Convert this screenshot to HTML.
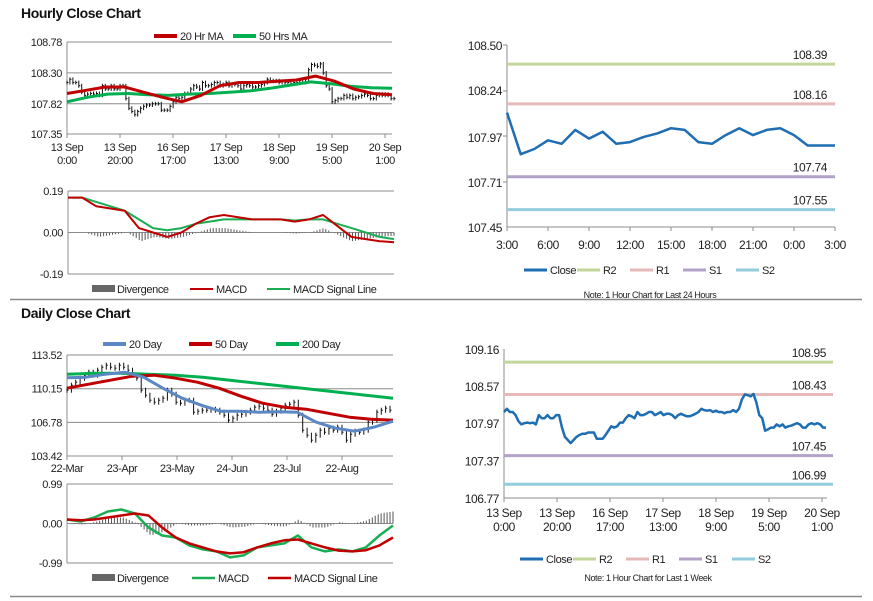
<!DOCTYPE html>
<html><head><meta charset="utf-8">
<style>
html,body{margin:0;padding:0;background:#fff;}
svg{display:block;font-family:"Liberation Sans",Arial,sans-serif;}
svg text{letter-spacing:-0.4px;}
</style></head>
<body>
<svg id="c" width="873" height="601" viewBox="0 0 873 601" xmlns="http://www.w3.org/2000/svg">
<text x="21" y="18" font-size="14" font-weight="bold" fill="#111">Hourly Close Chart</text>
<text x="21" y="318" font-size="14" font-weight="bold" fill="#111">Daily Close Chart</text>
<line x1="10" y1="299.5" x2="862" y2="299.5" stroke="#888" stroke-width="1.5"/>
<line x1="10" y1="596.5" x2="862" y2="596.5" stroke="#888" stroke-width="1.5"/>
<g id="g"></g>
</svg>
<script>
// ---------- DATA ----------
const weekClose=[108.15,108.2,108.15,108.15,108.1,108.0,107.95,107.97,107.98,107.97,107.98,107.95,108.1,108.05,108.05,108.1,108.05,108.05,108.1,108.1,107.9,107.75,107.7,107.65,107.7,107.75,107.78,107.8,107.8,107.82,107.82,107.82,107.72,107.72,107.72,107.78,107.85,107.92,107.9,107.92,107.98,107.98,108.05,108.1,108.08,108.05,108.15,108.1,108.1,108.12,108.15,108.15,108.1,108.12,108.15,108.1,108.12,108.12,108.1,108.05,108.1,108.12,108.1,108.08,108.08,108.1,108.12,108.15,108.2,108.18,108.17,108.18,108.15,108.17,108.15,108.15,108.13,108.15,108.15,108.18,108.15,108.2,108.35,108.43,108.42,108.4,108.44,108.3,108.1,108.05,107.85,107.87,107.9,107.9,107.95,107.92,107.95,107.9,107.92,107.93,107.95,107.97,107.95,107.9,107.9,107.95,107.97,107.95,107.97,107.95,107.9,107.9];
const ma20Hr=[107.98,108.03,108.08,108.08,108.0,107.92,107.85,107.95,108.1,108.15,108.15,108.17,108.19,108.25,108.17,108.05,107.98,107.96];
const ma50Hr=[107.85,107.92,107.97,107.98,107.96,107.95,107.97,107.98,108.0,108.02,108.06,108.11,108.16,108.13,108.09,108.07,108.06];
const hMacd=[0.16,0.16,0.12,0.11,0.10,0.02,0.00,-0.02,0.00,0.04,0.07,0.08,0.07,0.06,0.06,0.06,0.05,0.06,0.08,0.03,-0.02,-0.03,-0.04,-0.045];
const hSignal=[0.16,0.16,0.14,0.12,0.10,0.06,0.02,0.01,0.02,0.04,0.05,0.06,0.06,0.06,0.06,0.06,0.055,0.06,0.06,0.04,0.02,0.00,-0.02,-0.03];
const hourlyTicks=[["13 Sep","0:00"],["13 Sep","20:00"],["16 Sep","17:00"],["17 Sep","13:00"],["18 Sep","9:00"],["19 Sep","5:00"],["20 Sep","1:00"]];
const dayClose=[107.87,107.9,107.95,107.93,108.01,107.96,108.0,107.93,107.94,107.97,107.99,108.02,108.01,107.94,107.93,107.98,108.02,107.98,108.01,108.02,107.98,107.92,107.92,107.92];
const dayTicks=["3:00","6:00","9:00","12:00","15:00","18:00","21:00","0:00","3:00"];
const dayLevels=[["R2",108.39,"#c3d69b"],["R1",108.16,"#e6b9b8"],["S1",107.74,"#b3a2c7"],["S2",107.55,"#93cddd"]];
const dayFirst=108.11;
const weekLevels=[["R2",108.95,"#c3d69b"],["R1",108.43,"#e6b9b8"],["S1",107.45,"#b3a2c7"],["S2",106.99,"#93cddd"]];
const dailyClose=[110.0,110.5,110.8,111.2,111.5,111.8,111.5,112.0,112.3,112.5,112.3,112.2,112.5,112.3,112.0,111.5,111.2,110.0,109.5,109.0,108.8,109.0,109.2,110.0,109.6,108.8,108.7,109.0,109.0,107.8,107.9,108.0,108.0,108.1,108.0,107.8,107.5,107.0,107.2,107.5,107.6,107.8,108.0,108.3,108.4,108.2,108.0,107.6,107.9,108.2,108.5,108.6,108.8,107.5,106.0,105.5,105.0,105.5,106.0,105.8,106.2,106.0,106.3,105.8,105.0,105.6,105.9,105.8,106.0,106.8,107.0,107.8,108.0,108.2,108.0];
const ma20Day=[111.25,111.3,111.6,111.8,111.3,110.2,109.2,108.5,107.9,107.9,107.8,107.85,107.8,106.8,106.2,105.9,106.3,106.9];
const ma50Day=[110.2,110.6,111.0,111.4,111.5,111.2,110.8,110.2,109.4,108.7,108.3,108.1,107.7,107.3,107.1,107.0];
const ma200Day=[111.6,111.7,111.7,111.6,111.5,111.3,111.0,110.7,110.4,110.1,109.8,109.5,109.2];
const dMacd=[0.1,0.05,0.15,0.3,0.35,0.25,-0.1,-0.3,-0.35,-0.55,-0.65,-0.7,-0.85,-0.8,-0.6,-0.55,-0.5,-0.3,-0.6,-0.7,-0.65,-0.7,-0.6,-0.3,-0.05];
const dSignal=[0.1,0.08,0.1,0.15,0.2,0.25,0.2,-0.1,-0.35,-0.5,-0.6,-0.7,-0.75,-0.72,-0.6,-0.5,-0.42,-0.4,-0.5,-0.6,-0.68,-0.7,-0.67,-0.55,-0.35];
const dailyTicks=["22-Mar","23-Apr","23-May","24-Jun","23-Jul","22-Aug"];

// ---------- HELPERS ----------
const NS="http://www.w3.org/2000/svg";
const G=document.getElementById('g');
function el(tag,attrs,name,parent){
  const e=document.createElementNS(NS,tag);
  for(const k in attrs)e.setAttribute(k,attrs[k]);
  
  
  (parent||G).appendChild(e);return e;
}
function txt(x,y,s,size,anchor,name,fill){
  const t=el('text',{x:x,y:y,'font-size':size,'text-anchor':anchor||'start',fill:fill||'#222'},name);
  t.textContent=s;return t;
}
function lin(d0,d1,r0,r1){return v=>r0+(v-d0)*(r1-r0)/(d1-d0);}
function interp(arr,f){const p=f*(arr.length-1);const i=Math.min(Math.floor(p),arr.length-2);const t=p-i;return arr[i]*(1-t)+arr[i+1]*t;}
function line(arr,x0,x1,ys,color,w,name){
  const pts=arr.map((v,i)=>(x0+i*(x1-x0)/(arr.length-1)).toFixed(1)+','+ys(v).toFixed(1)).join(' ');
  el('polyline',{points:pts,fill:'none',stroke:color,'stroke-width':w,'stroke-linejoin':'round'},name);
}
function frame(x0,x1,y0,y1,ticks,ys,decimals,nameBase){
  ticks.forEach((v,i)=>{
    const y=ys(v);
    if(i>0&&i<ticks.length-1) el('line',{x1:x0,x2:x1,y1:y,y2:y,stroke:'#8c8c8c','stroke-width':1},nameBase+'-gridline');
    txt(x0-5,y+4,v.toFixed(decimals),11,'end',nameBase+'-y-tick');
  });
  el('line',{x1:x0,x2:x0,y1:ys(ticks[ticks.length-1]),y2:ys(ticks[0]),stroke:'#8c8c8c'},nameBase+'-y-axis');
  el('line',{x1:x0,x2:x1,y1:ys(ticks[0]),y2:ys(ticks[0]),stroke:'#8c8c8c'},nameBase+'-x-axis');
  el('line',{x1:x0,x2:x1,y1:ys(ticks[ticks.length-1]),y2:ys(ticks[ticks.length-1]),stroke:'#8c8c8c'},nameBase+'-top-line');
}
function legendLine(x,y,color,label,name,w){
  el('line',{x1:x,x2:x+23,y1:y,y2:y,stroke:color,'stroke-width':w||4},name+'-swatch');
  txt(x+26,y+4,label,11,'start',name);
}
function divBars(macd,sig,x0,x1,ys,n,name){
  const z=ys(0);
  for(let i=0;i<n;i++){const f=i/(n-1);const v=interp(macd,f)-interp(sig,f);const x=x0+f*(x1-x0);
    el('line',{x1:x.toFixed(1),x2:x.toFixed(1),y1:z,y2:ys(v).toFixed(1),stroke:'#555','stroke-width':1},name);}
}

// ---------- HOURLY (top-left) ----------
{
  const x0=67,x1=392,ys=lin(107.35,108.78,134,42);
  frame(x0,x1,0,0,[107.35,107.82,108.30,108.78],ys,2,'hourly');
  hourlyTicks.forEach((t,i)=>{const x=x0+i*53;
    el('line',{x1:x,x2:x,y1:134,y2:138,stroke:'#8c8c8c'},'hourly-x-tickmark');
    txt(x,151,t[0],11,'middle','hourly-x-label');txt(x,164,t[1],11,'middle','hourly-x-label');});
  const N=weekClose.length, step=(x1+2-x0)/(N-1);
  weekClose.forEach((v,i)=>{const prev=i?weekClose[i-1]:v;const x=x0+i*step;
    const hi=Math.max(v,prev)+0.03,lo=Math.min(v,prev)-0.03;
    el('line',{x1:x.toFixed(1),x2:x.toFixed(1),y1:ys(hi).toFixed(1),y2:ys(lo).toFixed(1),stroke:'#111','stroke-width':1},'hourly-bar');
    el('line',{x1:x.toFixed(1),x2:(x+1.5).toFixed(1),y1:ys(v).toFixed(1),y2:ys(v).toFixed(1),stroke:'#111','stroke-width':1},'hourly-bar-close');});
  line(ma50Hr,x0,x1,ys,'#00b050',3,'ma-50hr-line');
  line(ma20Hr,x0,x1,ys,'#c00000',3,'ma-20hr-line');
  legendLine(154,36,'#c00000','20 Hr MA','legend-20hr-ma');
  legendLine(233,36,'#00b050','50 Hrs MA','legend-50hrs-ma');
  const ym=lin(-0.19,0.19,274,191);
  const mx0=68,mx1=394;
  frame(mx0,mx1,0,0,[-0.19,0.00,0.19],ym,2,'hourly-macd');
  divBars(hMacd,hSignal,mx0+3,mx1,ym,110,'hourly-divergence-bar');
  line(hSignal,mx0,mx1,ym,'#1aae54',2,'hourly-signal-line');
  line(hMacd,mx0,mx1,ym,'#c00000',2,'hourly-macd-line');
  el('rect',{x:92,y:285,width:23,height:7,fill:'#666'},'legend-divergence-swatch');
  txt(117,293,'Divergence',11,'start','legend-divergence');
  legendLine(190,289,'#c00000','MACD','legend-macd',2);
  legendLine(267,289,'#1aae54','MACD Signal Line','legend-signal',2);
}

// ---------- 24h (top-right) ----------
{
  const x0=507,x1=835,ys=lin(107.45,108.50,227,45);
  [107.45,107.71,107.97,108.24,108.50].forEach(v=>txt(x0-5,ys(v)+5,v.toFixed(2),12,'end','day-y-tick'));
  el('line',{x1:x0,x2:x0,y1:45,y2:227,stroke:'#8c8c8c'},'day-y-axis');
  el('line',{x1:x0,x2:x1,y1:227,y2:227,stroke:'#8c8c8c'},'day-x-axis');
  [45,91,136,182].forEach(y=>el('line',{x1:x0-4,x2:x0,y1:y,y2:y,stroke:'#8c8c8c'},'day-y-tickmark'));
  dayTicks.forEach((t,i)=>{const x=x0+i*(x1-x0)/(dayTicks.length-1);
    el('line',{x1:x,x2:x,y1:227,y2:231,stroke:'#8c8c8c'},'day-x-tickmark');
    txt(x,249,t,12,'middle','day-x-label');});
  dayLevels.forEach(l=>{const y=ys(l[1]);
    el('line',{x1:x0,x2:x1,y1:y,y2:y,stroke:l[2],'stroke-width':3},'day-level-'+l[0].toLowerCase());
    txt(827,y-5,l[1].toFixed(2),12,'end','day-level-label');});
  line([dayFirst].concat(dayClose),x0,x1,ys,'#1f6db3',2.5,'day-close-line');
  const lg=[['Close','#1f6db3'],['R2','#c3d69b'],['R1','#e6b9b8'],['S1','#b3a2c7'],['S2','#93cddd']];
  lg.forEach((l,i)=>legendLine(524+i*53,270,l[1],l[0],'day-legend-'+l[0].toLowerCase(),3));
  txt(650,298,'Note: 1 Hour Chart for Last 24 Hours',9,'middle','day-note');
}

// ---------- DAILY (bottom-left) ----------
{
  const x0=67,x1=393,ys=lin(103.42,113.52,456,355);
  frame(x0,x1,0,0,[103.42,106.78,110.15,113.52],ys,2,'daily');
  dailyTicks.forEach((t,i)=>{const x=x0+i*55;
    el('line',{x1:x,x2:x,y1:456,y2:460,stroke:'#8c8c8c'},'daily-x-tickmark');
    txt(x,472,t,11,'middle','daily-x-label');});
  const N=dailyClose.length, step=(390-x0)/(N-1);
  dailyClose.forEach((v,i)=>{const prev=i?dailyClose[i-1]:v;const x=x0+i*step;
    const hi=Math.max(v,prev)+0.25,lo=Math.min(v,prev)-0.25;
    el('line',{x1:x.toFixed(1),x2:x.toFixed(1),y1:ys(hi).toFixed(1),y2:ys(lo).toFixed(1),stroke:'#111','stroke-width':1},'daily-bar');
    el('line',{x1:x.toFixed(1),x2:(x+1.5).toFixed(1),y1:ys(v).toFixed(1),y2:ys(v).toFixed(1),stroke:'#111','stroke-width':1},'daily-bar-close');});
  line(ma200Day,x0,x1,ys,'#00b050',3,'ma-200day-line');
  line(ma50Day,x0,x1,ys,'#c00000',3,'ma-50day-line');
  line(ma20Day,x0,x1,ys,'#5b87c5',3,'ma-20day-line');
  legendLine(103,344,'#5b87c5','20 Day','legend-20day');
  legendLine(189,344,'#c00000','50 Day','legend-50day');
  legendLine(276,344,'#00b050','200 Day','legend-200day');
  const ym=lin(-0.99,0.99,563,484);
  frame(x0,x1,0,0,[-0.99,0.00,0.99],ym,2,'daily-macd');
  divBars(dMacd,dSignal,x0+3,x1,ym,110,'daily-divergence-bar');
  line(dMacd,x0,x1,ym,'#1aae54',2.5,'daily-macd-line');
  line(dSignal,x0,x1,ym,'#c00000',2.5,'daily-signal-line');
  el('rect',{x:92,y:574,width:23,height:7,fill:'#666'},'legend-daily-divergence-swatch');
  txt(117,582,'Divergence',11,'start','legend-daily-divergence');
  legendLine(192,578,'#1aae54','MACD','legend-daily-macd',2.5);
  legendLine(268,578,'#c00000','MACD Signal Line','legend-daily-signal',2.5);
}

// ---------- WEEK (bottom-right) ----------
{
  const x0=504,x1=827,ys=lin(106.77,109.16,498,349);
  [106.77,107.37,107.97,108.57,109.16].forEach(v=>txt(x0-5,ys(v)+5,v.toFixed(2),12,'end','week-y-tick'));
  el('line',{x1:x0,x2:x0,y1:349,y2:498,stroke:'#8c8c8c'},'week-y-axis');
  el('line',{x1:x0,x2:x1,y1:498,y2:498,stroke:'#8c8c8c'},'week-x-axis');
  hourlyTicks.forEach((t,i)=>{const x=x0+i*53;
    el('line',{x1:x,x2:x,y1:498,y2:502,stroke:'#8c8c8c'},'week-x-tickmark');
    txt(x,517,t[0],12,'middle','week-x-label');txt(x,531,t[1],12,'middle','week-x-label');});
  weekLevels.forEach(l=>{const y=ys(l[1]);
    el('line',{x1:x0,x2:x1+6,y1:y,y2:y,stroke:l[2],'stroke-width':3},'week-level-'+l[0].toLowerCase());
    txt(826,y-5,l[1].toFixed(2),12,'end','week-level-label');});
  line(weekClose,x0,826,ys,'#1f6db3',2.5,'week-close-line');
  const lg=[['Close','#1f6db3'],['R2','#c3d69b'],['R1','#e6b9b8'],['S1','#b3a2c7'],['S2','#93cddd']];
  lg.forEach((l,i)=>legendLine(520+i*53,559,l[1],l[0],'week-legend-'+l[0].toLowerCase(),3));
  txt(648,581,'Note: 1 Hour Chart for Last 1 Week',9,'middle','week-note');
}
</script>
</body></html>
